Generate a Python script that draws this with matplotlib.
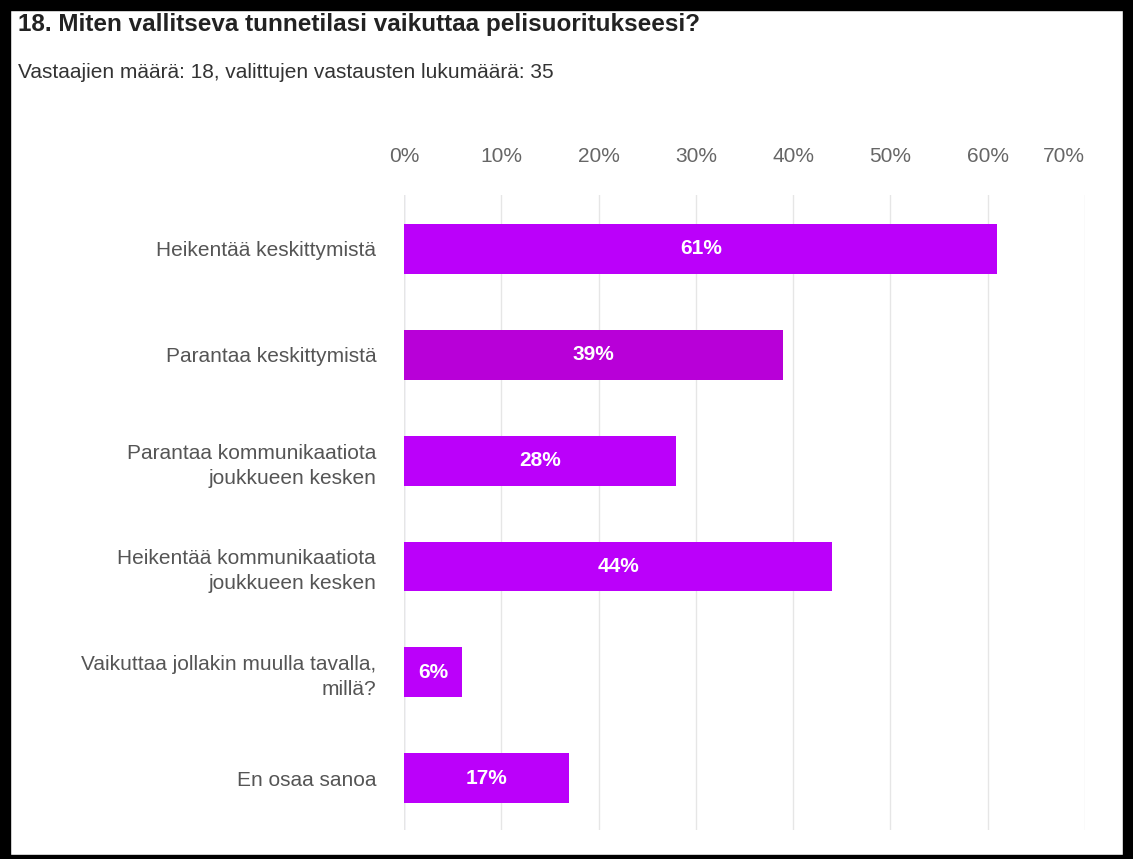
import matplotlib.pyplot as plt
from matplotlib.patches import Rectangle

plt.rcParams["font.family"] = ["Liberation Sans", "DejaVu Sans"]

title = "18. Miten vallitseva tunnetilasi vaikuttaa pelisuoritukseesi?"
subtitle = "Vastaajien määrä: 18, valittujen vastausten lukumäärä: 35"
categories = [
    "Heikentää keskittymistä",
    "Parantaa keskittymistä",
    "Parantaa kommunikaatiota\njoukkueen kesken",
    "Heikentää kommunikaatiota\njoukkueen kesken",
    "Vaikuttaa jollakin muulla tavalla,\nmillä?",
    "En osaa sanoa",
]
percents = [61, 39, 28, 44, 6, 17]
bar_colors = ["#bb00fa", "#b800d8", "#bb00fa", "#bb00fa", "#bb00fa", "#bb00fa"]
ticks = [0, 10, 20, 30, 40, 50, 60, 70]

W, H = 1133, 859
fig = plt.figure(figsize=(W / 100, H / 100), dpi=100)
fig.patch.set_facecolor("white")

ax = fig.add_axes([404 / W, 1 - 830 / H, (1085 - 404) / W, (830 - 195) / H])
ypos = list(range(len(categories)))
ax.barh(ypos, percents, height=0.47, color=bar_colors, zorder=3)
for y, v in zip(ypos, percents):
    ax.text(v / 2, y, f"{v}%", ha="center", va="center", color="white",
            fontsize=15, fontweight="bold", zorder=4)

ax.set_xlim(0, 70)
ax.set_ylim(5.49, -0.51)
ax.set_yticks(ypos)
ax.set_yticklabels(categories, fontsize=15, color="#555555", ha="right",
                   linespacing=1.4)
ax.tick_params(axis="y", length=0, pad=20)
ax.set_xticks(ticks)
ax.xaxis.tick_top()
ax.set_xticklabels([f"{t}%" for t in ticks], fontsize=15, color="#666666")
ax.tick_params(axis="x", length=0, pad=21)
ax.get_xticklabels()[-1].set_horizontalalignment("right")
ax.grid(axis="x", color="#e6e6e6", linewidth=1, zorder=0)
ax.axvline(0, color="#ccd6eb", linewidth=1, zorder=1)
for s in ax.spines.values():
    s.set_visible(False)

fig.text(18 / W, 1 - 31 / H, title, fontsize=17.5, fontweight="bold",
         color="#222222", va="baseline")
fig.text(18 / W, 1 - 72 / H, subtitle, fontsize=15, color="#333333", va="center")

# black frame around the panel
for x0, y0, w, h in [(0, H - 10, W, 10), (0, 0, 10, H), (1123, 0, 10, H), (0, 0, W, 4)]:
    fig.patches.append(Rectangle((x0 / W, y0 / H), w / W, h / H, transform=fig.transFigure,
                                 color="black", zorder=10))

fig.savefig("out.png", dpi=100)
